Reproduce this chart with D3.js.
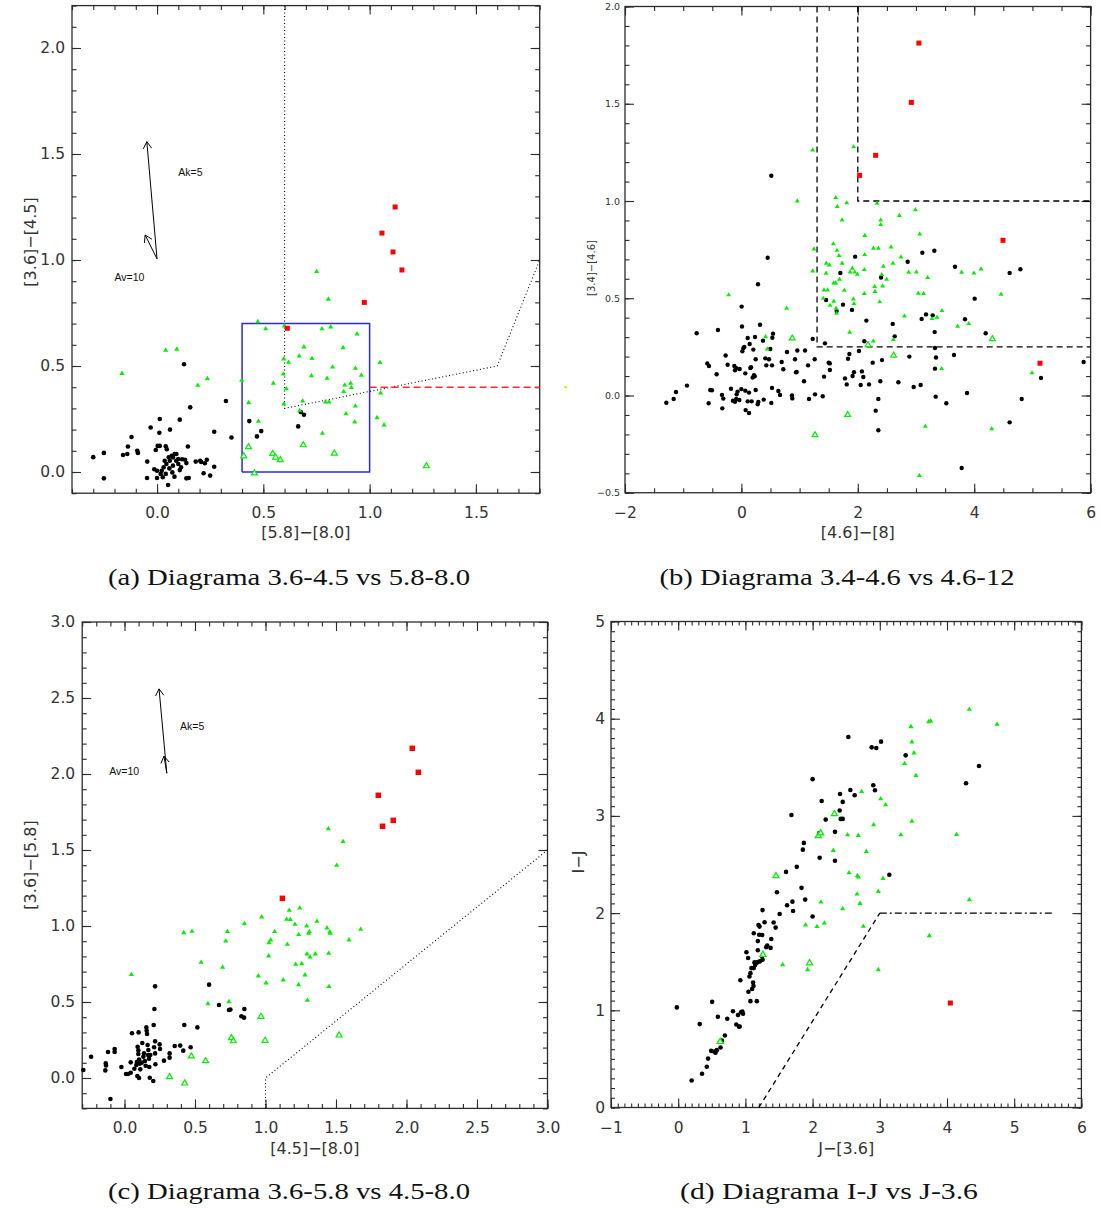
<!DOCTYPE html>
<html>
<head>
<meta charset="utf-8">
<script src="https://cdn.jsdelivr.net/npm/d3@7"></script>
<style>
  body { margin: 0; background: #fff; }
  svg { display: block; }
</style>
</head>
<body>
<svg id="fig" width="1101" height="1209"></svg>
<script>
// ---------------- data: panel (a)  [5.8]-[8.0] vs [3.6]-[4.5] ----------------
const aBlack = [
  [-0.30,0.07],[-0.25,0.09],[-0.25,-0.03],[-0.16,0.08],[-0.14,0.085],[-0.137,0.12],[-0.12,0.165],[-0.093,0.10],
  [-0.09,0.09],[-0.03,0.21],[0.013,0.25],[0.011,0.185],[0.061,0.20],[0.107,0.247],[0.127,0.508],[0.156,0.305],
  [0.145,0.12],[0.269,0.19],[0.324,0.335],[0.35,0.163],[0.434,0.24],[0.47,0.168],[0.49,0.193],[0.664,0.215],
  [0.676,0.283],[0.691,0.27],[-0.046,0.049],[-0.047,-0.028],[-0.013,0.013],[0,-0.028],[0.052,-0.061],[-0.006,0.104],
  [0.003,0.123],[0.013,0.123],[0.041,0.121],[0.046,0.107],[0.017,-0.009],[0.022,0.006],[0,0.006],[0.031,0.022],
  [0.044,0.038],[0.06,0.053],[0.075,0.069],[0.083,0.085],[0.069,0.077],[0.09,0.053],[0.10,0.061],[0.118,0.06],
  [0.132,0.058],[0.138,0.042],[0.10,0.038],[0.113,0.022],[0.107,0.009],[0.082,-0.022],[0.058,0.017],[0.072,-0.002],
  [0.041,-0.009],[0.027,-0.025],[0.138,-0.03],[0.149,-0.028],[0.182,0.049],[0.208,0.047],[0.203,0.053],[0.225,0.041],
  [0.234,0.058],[0.219,-0.006],[0.25,-0.017],[0.269,0.025],[0.055,0.069],[0.036,0.053],[0.075,0.03],[0.091,0.085]
];
const aGreen = [
  [-0.165,0.465],[0.041,0.574],[0.093,0.579],[0.192,0.409],[0.237,0.44],[0.398,0.432],[0.474,0.709],[0.511,0.675],
  [0.599,0.689],[0.596,0.533],[0.619,0.517],[0.594,0.462],[0.608,0.392],[0.597,0.321],[0.547,0.418],[0.431,0.327],
  [0.477,0.239],[0.691,0.59],[0.669,0.547],[0.729,0.535],[0.726,0.454],[0.685,0.335],[0.671,0.289],[0.776,0.675],
  [0.817,0.684],[0.875,0.586],[0.826,0.495],[0.80,0.442],[0.792,0.33],[0.809,0.33],[0.883,0.41],[0.878,0.379],
  [0.911,0.418],[0.914,0.398],[0.933,0.489],[0.941,0.651],[0.961,0.456],[0.889,0.274],[0.933,0.311],[0.93,0.236],
  [0.778,0.182],[0.751,0.945],[0.806,0.815],[1.049,0.516],[1.052,0.373],[1.035,0.256],[1.068,0.222]
];
const aOpen = [[0.43,0.118],[0.408,0.075],[0.458,-0.006],[0.544,0.086],[0.558,0.069],[0.58,0.057],[0.688,0.127],[0.834,0.088],[1.267,0.028]];
const aRed = [[0.613,0.678],[0.975,0.80],[1.11,1.038],[1.152,0.953],[1.058,1.127],[1.12,1.25]];
const aLimit = [[0.6,2.2],[0.6,0.3],[1.6,0.5],[1.8,1.0]];
const aBox = [[0.4,0.0],[1.0,0.7]];
const aRedCut = [[1.0,0.4],[1.8,0.4]];
const aReddening = { from: [0.0,1.005], longTip: [-0.048,1.558], shortTip: [-0.056,1.118] };

// ---------------- data: panel (b)  [4.6]-[8] vs [3.4]-[4.6] ----------------
const bBlack = [
  [-1.29,-0.037],[-1.164,-0.018],[-1.124,0.018],[-0.935,0.051],[-0.769,0.32],[-0.586,0.165],[-0.557,0.152],[-0.563,-0.04],
  [-0.535,0.028],[-0.506,0.027],[-0.426,0.109],[-0.403,0.337],[-0.334,0.003],[-0.328,-0.066],[-0.311,-0.016],[-0.271,0.206],
  [-0.237,0.158],[-0.179,0.035],[-0.122,0.152],[-0.11,0.13],[-0.088,0.141],[-0.145,-0.027],[-0.11,-0.032],[-0.088,-0.018],
  [-0.082,0.006],[-0.065,0.02],[-0.03,0.136],[-0.036,-0.023],[0.004,0.457],[-0.001,0.033],[0.01,0.355],[0.016,0.227],
  [0.033,0.243],[0.05,0.25],[0.067,0.114],[0.067,0.025],[0.073,-0.075],[0.108,0.296],[0.108,-0.03],[0.131,0.015],
  [0.131,-0.09],[0.142,0.265],[0.153,0.141],[0.165,0.145],[0.176,-0.03],[0.193,0.092],[0.205,0.236],[0.216,0.104],
  [0.234,0.301],[0.228,0.099],[0.245,0.186],[0.245,0.028],[0.285,0.572],[0.28,-0.045],[0.291,-0.033],[0.32,0.364],
  [0.371,0.282],[0.383,-0.021],[0.411,0.191],[0.428,0.155],[0.451,0.708],[0.474,0.186],[0.497,0.239],[0.514,-0.038],
  [0.526,0.155],[0.532,0.297],[0.543,0.318],[0.526,0.039],[0.635,0.023],[0.664,0.003],[0.692,0.172],[0.72,0.135],
  [0.783,0.224],[0.869,0],[0.875,-0.015],[0.921,0.186],[0.938,0.119],[0.95,0.121],[0.961,0.231],[1.076,0.073],
  [1.093,0.231],[1.145,0.155],[1.162,-0.018],[1.225,0.291],[1.259,0.186],[1.265,0.006],[1.397,-0.004],[0.514,1.13],
  [1.42,0.097],[1.455,0.491],[1.436,0.268],[1.499,0.169],[1.52,0.165],[1.52,0.131],[1.70,0.63],[1.746,0.467],
  [1.637,0.434],[1.78,0.088],[1.81,0.057],[1.832,0.189],[1.855,0.213],[1.90,0.44],[1.91,0.10],[1.935,0.12],
  [1.954,0.714],[2.02,0.229],[2.05,0.054],[2.07,0.124],[2.095,0.095],[2.112,0.279],[2.147,0.385],[2.193,0.057],
  [2.256,0.169],[2.307,-0.078],[2.353,-0.018],[2.353,-0.179],[2.387,0.073],[2.399,0.607],[2.416,0.182],[2.6,0.368],
  [2.634,0.304],[2.697,0.068],[2.857,0.688],[2.886,0.2],[2.96,0.044],[3.08,0.054],[3.097,0.393],[3.109,0.734],
  [3.172,0.417],[3.287,0.412],[3.315,0.744],[3.321,0.326],[3.326,0.244],[3.344,0.195],[3.326,0.138],[3.338,-0.006],
  [3.521,-0.04],[3.653,0.208],[3.67,0.662],[3.785,-0.373],[3.842,0.392],[3.877,0.013],[4.008,0.498],[4.197,0.32],
  [4.609,0.63],[4.609,-0.138],[4.793,0.649],[4.816,-0.018],[5.148,0.09],[5.88,0.172]
];
const bGreen = [
  [1.225,1.262],[0.961,1.0],[-0.219,0.517],[0.778,0.448],[0.417,0.302],[0.445,0.239],[1.247,0.753],[1.225,0.64],
  [1.93,1.278],[1.62,1.017],[1.648,0.971],[1.81,0.99],[1.73,0.902],[1.58,0.779],[1.643,0.746],[1.677,0.719],
  [1.459,0.68],[1.511,0.671],[1.455,0.628],[1.587,0.578],[1.686,0.597],[1.73,0.68],[1.62,0.578],[1.419,0.542],
  [1.482,0.542],[1.768,0.541],[1.408,0.499],[1.523,0.463],[1.587,0.484],[1.627,0.448],[1.637,0.422],[1.866,0.635],
  [1.906,0.654],[1.946,0.635],[1.992,0.623],[1.923,0.496],[1.935,0.472],[1.86,0.325],[2.12,0.822],[2.118,0.724],
  [2.112,0.647],[2.112,0.524],[2.33,0.988],[2.267,0.757],[2.353,0.757],[2.29,0.56],[2.295,0.534],[2.376,0.481],
  [2.393,0.902],[2.393,0.878],[2.439,0.664],[2.411,0.621],[2.428,0.563],[2.496,0.597],[2.571,0.763],[2.605,0.68],
  [2.743,0.712],[2.714,0.925],[2.989,0.955],[3.064,0.83],[2.874,0.633],[3.006,0.635],[3.2,0.606],[3.039,0.525],
  [3.131,0.524],[2.801,0.408],[2.267,0.28],[2.61,0.287],[3.275,0.395],[3.361,0.402],[3.447,0.436],[3.716,0.356],
  [3.906,0.369],[3.784,0.633],[3.996,0.629],[4.117,0.65],[4.461,0.52],[3.441,0.138],[3.16,-0.159],[4.301,-0.171],
  [3.058,-0.412],[4.993,0.116]
];
const bOpen = [[0.874,0.294],[1.265,-0.203],[1.826,-0.099],[2.175,0.26],[2.616,0.206],[4.312,0.291]];
const bRed = [[3.05,1.812],[2.92,1.507],[2.307,1.235],[2.032,1.132],[4.495,0.798],[5.131,0.166]];
const bClassII = [[1.3,2.0],[1.3,0.25],[6.0,0.25]];
const bClassI = [[2.0,2.0],[2.0,1.0],[6.0,1.0]];

// ---------------- data: panel (c)  [4.5]-[8.0] vs [3.6]-[5.8] ----------------
const cBlack = [
  [-0.292,0.053],[-0.237,0.14],[-0.133,0.096],[-0.131,0.083],[-0.136,0.05],[-0.117,0.171],[-0.07,0.191],[-0.07,0.171],
  [-0.1,-0.138],[-0.022,0.072],[0.011,0.026],[0.025,0.026],[0.044,0.103],[0.053,0.294],[0.044,0.035],[0.07,0.061],
  [0.084,0.086],[0.088,0.105],[0.1,0.3],[0.093,0.206],[0.098,0.182],[0.098,0.158],[0.103,0.121],[0.108,0.094],
  [0.091,0.013],[0.103,0],[0.112,0.057],[0.122,0.101],[0.126,0.23],[0.134,0.14],[0.138,0.162],[0.145,0.112],
  [0.15,0.081],[0.155,0.333],[0.157,0.311],[0.16,0.289],[0.164,0.217],[0.169,0.184],[0.167,0.151],[0.174,0.127],
  [0.176,0.072],[0.179,0.002],[0.204,-0.02],[0.207,0.349],[0.212,0.454],[0.217,0.603],[0.217,0.241],[0.21,0.202],
  [0.217,0.162],[0.219,0.09],[0.183,0.151],[0.249,0.221],[0.252,0.191],[0.28,0.114],[0.32,0.162],[0.32,0.134],
  [0.356,0.211],[0.395,0.213],[0.417,0.18],[0.424,0.349],[0.469,0.202],[0.517,0.333],[0.6,0.614],[0.67,0.48],
  [0.741,0.447],[0.751,0.45],[0.829,0.406],[0.848,0.397],[0.85,0.454]
];
const cGreen = [
  [0.049,0.68],[0.42,0.956],[0.479,0.965],[0.543,0.761],[0.592,0.489],[0.696,0.728],[0.718,0.901],[0.73,0.963],
  [0.741,0.502],[0.85,1.015],[0.949,0.671],[0.973,1.059],[1.169,1.103],[1.243,1.118],[1.15,1.044],[1.176,1.042],
  [1.209,1.011],[1.065,0.963],[1.037,0.908],[1.025,0.89],[1.022,0.803],[1.004,0.625],[1.126,0.645],[1.155,0.879],
  [1.292,1.0],[1.365,1.031],[1.436,0.987],[1.456,0.961],[1.459,0.952],[1.306,0.952],[1.311,0.963],[1.235,0.943],
  [1.675,0.978],[1.592,0.908],[1.448,0.82],[1.353,0.816],[1.316,0.796],[1.294,0.816],[1.257,0.752],[1.214,0.748],
  [1.28,0.678],[1.235,0.614],[1.45,0.601],[1.297,0.511],[1.446,1.64],[1.55,1.555],[1.505,1.399]
];
const cOpen = [[0.32,0.007],[0.427,-0.035],[0.474,0.143],[0.575,0.112],[0.758,0.263],[0.772,0.243],[0.968,0.404],[0.997,0.246],[1.522,0.281]];
const cRed = [[1.12,1.182],[1.8,1.86],[1.83,1.656],[1.906,1.695],[2.041,2.169],[2.084,2.011]];
const cLimit = [[1.0,-0.2],[1.0,0.0],[3.0,1.5]];
const cReddening = { from: [0.30,2.005], longTip: [0.245,2.56], shortTip: [0.28,2.118] };

// ---------------- data: panel (d)  J-[3.6] vs I-J ----------------
const dBlack = [
  [-0.02,1.03],[0.2,0.278],[0.32,0.858],[0.355,0.347],[0.425,0.42],[0.445,0.503],[0.505,1.087],[0.49,0.583],
  [0.535,0.576],[0.555,0.563],[0.575,0.59],[0.59,0.934],[0.63,0.618],[0.65,0.688],[0.695,0.74],[0.73,0.913],
  [0.815,0.99],[0.865,0.854],[0.905,0.83],[0.89,0.951],[0.915,0.833],[0.935,0.979],[0.955,0.986],[0.965,0.965],
  [0.925,1.309],[1.015,1.597],[1.04,1.538],[1.045,1.191],[1.06,1.347],[1.075,1.382],[1.075,1.094],[1.09,1.434],
  [1.1,1.219],[1.115,1.285],[1.12,1.25],[1.125,1.792],[1.125,1.434],[1.135,1.493],[1.145,1.465],[1.165,1.486],
  [1.17,1.094],[1.18,1.497],[1.185,1.618],[1.185,1.712],[1.195,1.878],[1.205,1.778],[1.21,1.861],[1.215,1.503],
  [1.25,1.774],[1.25,1.556],[1.255,1.521],[1.255,2.031],[1.285,1.906],[1.31,1.649],[1.325,1.667],[1.375,1.642],
  [1.385,1.733],[1.42,1.903],[1.45,1.851],[1.47,2.215],[1.51,1.99],[1.605,2.424],[1.62,2.08],[1.7,2.118],
  [1.685,3.01],[1.71,2.021],[1.765,2.476],[1.835,2.26],[1.855,2.653],[1.87,2.722],[1.89,2.139],[2.0,1.965],
  [2.0,3.378],[2.1,2.823],[2.105,2.569],[2.135,3.153],[2.195,2.962],[2.333,2.836],[2.333,2.538],[2.403,3.055],
  [2.408,3.226],[2.418,2.969],[2.448,2.969],[2.448,3.144],[2.532,3.812],[2.562,3.267],[2.626,3.212],[2.879,3.705],
  [2.948,3.699],[3.018,3.764],[2.903,3.315],[2.928,3.264],[3.142,2.394],[3.385,3.623],[4.283,3.336],[4.476,3.514]
];
const dGreen = [
  [1.555,1.469],[1.895,1.878],[1.925,1.417],[2.065,1.861],[2.73,3.25],[3.013,3.175],[3.087,3.113],[2.908,2.908],
  [3.478,2.945],[2.52,2.805],[2.679,2.798],[3.314,2.805],[4.143,2.808],[2.308,2.644],[2.799,2.634],[2.542,2.414],
  [2.666,2.384],[2.681,2.37],[3.048,2.356],[2.978,2.223],[2.661,2.195],[2.705,2.099],[2.448,2.045],[2.125,2.113],
  [2.175,1.897],[2.755,1.863],[3.737,1.767],[2.978,1.418],[4.333,2.137],[3.464,3.918],[3.478,3.76],[3.508,3.647],
  [3.369,3.538],[3.538,3.414],[3.727,3.969],[3.757,3.976],[4.333,4.096],[4.744,3.942]
];
const dOpen = [[0.625,0.677],[1.26,1.573],[1.455,2.382],[1.955,1.486],[2.085,2.795],[2.12,2.823],[2.325,3.021]];
const dRed = [[4.05,1.075]];
const dSlope = [[1.2,0.0],[3.0,2.0]];
const dFlat = [[3.0,2.0],[5.6,2.0]];

// ---------------- tick labels and captions ----------------
const aXLabels = [0.0, 0.5, 1.0, 1.5];
const aYLabels = [0.0, 0.5, 1.0, 1.5, 2.0];
const bXLabels = [-2, 0, 2, 4, 6];
const bYLabels = [-0.5, 0.0, 0.5, 1.0, 1.5, 2.0];
const cXLabels = [0.0, 0.5, 1.0, 1.5, 2.0, 2.5, 3.0];
const cYLabels = [0.0, 0.5, 1.0, 1.5, 2.0, 2.5, 3.0];
const dXLabels = [-1, 0, 1, 2, 3, 4, 5, 6];
const dYLabels = [0, 1, 2, 3, 4, 5];
const captions = [
  "(a) Diagrama 3.6-4.5 vs 5.8-8.0",
  "(b) Diagrama 3.4-4.6 vs 4.6-12",
  "(c) Diagrama 3.6-5.8 vs 4.5-8.0",
  "(d) Diagrama I-J vs J-3.6"
];

// ---------------- drawing ----------------
const svg = d3.select("#fig");
const INK = "#2b2b2b";
const GREEN = "#00f000";
const RED = "#ff0000";
const TICK_FONT = "'DejaVu Sans', 'Liberation Sans', sans-serif";
const tenths = (a, b) => d3.range(Math.round(a * 10), Math.round(b * 10) + 1).map(v => v / 10);
const steps = (a, b, s) => d3.range(Math.round(a / s), Math.round(b / s) + 1).map(v => v * s);
const minus = s => s.replace("-", "\u2212");

function panel(cfg) {
  const g = svg.append("g");
  const x = d3.scaleLinear().domain(cfg.xDomain).range([cfg.left, cfg.right]);
  const y = d3.scaleLinear().domain(cfg.yDomain).range([cfg.bottom, cfg.top]);

  // frame
  g.append("rect")
    .attr("x", cfg.left).attr("y", cfg.top)
    .attr("width", cfg.right - cfg.left).attr("height", cfg.bottom - cfg.top)
    .attr("fill", "none").attr("stroke", INK).attr("stroke-width", 1.3);

  // inward ticks on all four sides: minor ticks first, then labelled majors
  const sides = [
    { make: () => d3.axisBottom(x), tr: `translate(0,${cfg.bottom})`, maj: cfg.xMajor, min: cfg.xMinor, lab: true, fmt: cfg.xFmt, pad: cfg.xPad, fs: cfg.xFont },
    { make: () => d3.axisTop(x), tr: `translate(0,${cfg.top})`, maj: cfg.xMajor, min: cfg.xMinor, lab: false },
    { make: () => d3.axisLeft(y), tr: `translate(${cfg.left},0)`, maj: cfg.yMajor, min: cfg.yMinor, lab: true, fmt: cfg.yFmt, pad: cfg.yPad, fs: cfg.yFont },
    { make: () => d3.axisRight(y), tr: `translate(${cfg.right},0)`, maj: cfg.yMajor, min: cfg.yMinor, lab: false }
  ];
  sides.forEach(s => {
    g.append("g").attr("transform", s.tr)
      .call(s.make().tickValues(s.min).tickSize(-cfg.minorLen).tickSizeOuter(0).tickFormat(""))
      .call(sel => sel.select(".domain").remove());
    g.append("g").attr("transform", s.tr)
      .call(s.make().tickValues(s.maj).tickSize(-cfg.majorLen).tickSizeOuter(0)
        .tickFormat(s.lab ? s.fmt : "").tickPadding(s.lab ? s.pad : 3))
      .call(sel => sel.select(".domain").remove())
      .call(sel => sel.selectAll("text").attr("font-family", TICK_FONT).attr("font-size", s.fs).attr("fill", "#333"));
  });
  g.selectAll(".tick line").attr("stroke", INK).attr("stroke-width", 1.1);

  // axis titles
  g.append("text").text(cfg.xTitle)
    .attr("x", (cfg.left + cfg.right) / 2).attr("y", cfg.xTitleY).attr("dy", "0.35em")
    .attr("text-anchor", "middle").attr("font-family", TICK_FONT).attr("font-size", cfg.titleFont).attr("fill", "#333");
  g.append("text").text(cfg.yTitle)
    .attr("transform", `translate(${cfg.yTitleX},${cfg.yTitleY}) rotate(-90)`).attr("dy", "0.35em")
    .attr("text-anchor", "middle").attr("font-family", TICK_FONT).attr("font-size", cfg.yTitleFont || cfg.titleFont).attr("fill", "#333");

  // caption
  g.append("text").text(cfg.caption)
    .attr("x", cfg.capX).attr("y", cfg.capY).attr("dy", "0.35em")
    .attr("text-anchor", "middle")
    .attr("font-family", "'Liberation Serif', 'DejaVu Serif', serif").attr("font-size", 24)
    .attr("textLength", cfg.capW).attr("lengthAdjust", "spacingAndGlyphs")
    .attr("fill", "#111");

  return { g, x, y };
}

function drawLine(p, pts, stroke, dash, width) {
  const line = d3.line().x(d => p.x(d[0])).y(d => p.y(d[1]));
  p.g.append("path").attr("d", line(pts)).attr("fill", "none")
    .attr("stroke", stroke).attr("stroke-width", width || 1.1)
    .attr("stroke-dasharray", dash || null);
}

function drawMarkers(p, black, green, open, red, sz) {
  const triFill = d3.symbol().type(d3.symbolTriangle).size(sz.tri);
  const triOpen = d3.symbol().type(d3.symbolTriangle).size(sz.open);
  p.g.append("g").selectAll("circle").data(black).join("circle")
    .attr("cx", d => p.x(d[0])).attr("cy", d => p.y(d[1])).attr("r", sz.dot).attr("fill", "#000");
  p.g.append("g").selectAll("path").data(green).join("path")
    .attr("d", triFill).attr("transform", d => `translate(${p.x(d[0])},${p.y(d[1])})`).attr("fill", GREEN);
  p.g.append("g").selectAll("path").data(open).join("path")
    .attr("d", triOpen).attr("transform", d => `translate(${p.x(d[0])},${p.y(d[1])})`)
    .attr("fill", "#fff").attr("stroke", GREEN).attr("stroke-width", 1.2);
  p.g.append("g").selectAll("rect").data(red).join("rect")
    .attr("x", d => p.x(d[0]) - sz.sq / 2).attr("y", d => p.y(d[1]) - sz.sq / 2)
    .attr("width", sz.sq).attr("height", sz.sq).attr("fill", RED);
}

function drawArrow(p, from, tip) {
  const x0 = p.x(from[0]), y0 = p.y(from[1]), x1 = p.x(tip[0]), y1 = p.y(tip[1]);
  p.g.append("line").attr("x1", x0).attr("y1", y0).attr("x2", x1).attr("y2", y1)
    .attr("stroke", "#000").attr("stroke-width", 1);
  const ang = Math.atan2(y1 - y0, x1 - x0), L = 8, spread = 0.55;
  const hx = a => x1 - L * Math.cos(a), hy = a => y1 - L * Math.sin(a);
  p.g.append("path")
    .attr("d", `M${hx(ang - spread)},${hy(ang - spread)}L${x1},${y1}L${hx(ang + spread)},${hy(ang + spread)}`)
    .attr("fill", "none").attr("stroke", "#000").attr("stroke-width", 1);
}

function note(p, pos, txt) {
  p.g.append("text").text(txt).attr("x", p.x(pos[0])).attr("y", p.y(pos[1])).attr("dy", "0.35em")
    .attr("font-family", "'Liberation Sans', Arial, sans-serif").attr("font-size", 10.5).attr("fill", "#111");
}

const fmt1 = d => minus(d3.format(".1f")(d));
const fmt0 = d => minus(d3.format("d")(d));

// ---- panel (a)
const pa = panel({
  left: 72, right: 539.7, top: 5.6, bottom: 493.2,
  xDomain: [-0.4, 1.8], yDomain: [-0.1, 2.2],
  xMajor: aXLabels, xMinor: tenths(-0.4, 1.8), yMajor: aYLabels, yMinor: tenths(-0.1, 2.2),
  xFmt: fmt1, yFmt: fmt1, xPad: 14, yPad: 7, xFont: 15.5, yFont: 15.5,
  majorLen: 9, minorLen: 4.5,
  xTitle: "[5.8]\u2212[8.0]", xTitleY: 532, yTitle: "[3.6]\u2212[4.5]", yTitleX: 30, yTitleY: 242, titleFont: 16,
  caption: captions[0], capX: 289, capY: 577, capW: 362
});
drawLine(pa, aLimit, "#000", "1,2.5", 1.1);
drawLine(pa, [[aBox[0][0], aBox[0][1]], [aBox[1][0], aBox[0][1]], [aBox[1][0], aBox[1][1]], [aBox[0][0], aBox[1][1]], [aBox[0][0], aBox[0][1]]], "#2a2ae6", null, 1.5);
drawLine(pa, aRedCut, "#ff2a2a", "7,4", 1.4);
drawLine(pa, [[1.915, 0.4], [1.93, 0.4]], "#e8e800", null, 2);
drawArrow(pa, aReddening.from, aReddening.longTip);
drawArrow(pa, aReddening.from, aReddening.shortTip);
note(pa, [0.10, 1.414], "Ak=5");
note(pa, [-0.2, 0.917], "Av=10");
drawMarkers(pa, aBlack, aGreen, aOpen, aRed, { dot: 2.3, tri: 11, open: 15, sq: 5 });

// ---- panel (b)
const pb = panel({
  left: 625, right: 1090.6, top: 6.5, bottom: 492.75,
  xDomain: [-2, 6], yDomain: [-0.5, 2.0],
  xMajor: bXLabels, xMinor: steps(-2, 6, 0.5), yMajor: bYLabels, yMinor: tenths(-0.5, 2.0),
  xFmt: fmt0, yFmt: d => d3.format(".1f")(d), xPad: 14, yPad: 5, xFont: 15.5, yFont: 9.5,
  majorLen: 9, minorLen: 4.5,
  xTitle: "[4.6]\u2212[8]", xTitleY: 532, yTitle: "[3.4]\u2212[4.6]", yTitleX: 591, yTitleY: 268, titleFont: 16, yTitleFont: 10,
  caption: captions[1], capX: 837, capY: 577, capW: 355
});
drawLine(pb, bClassII, "#000", "6,4", 1.3);
drawLine(pb, bClassI, "#000", "6,4", 1.3);
drawMarkers(pb, bBlack, bGreen, bOpen, bRed, { dot: 2.2, tri: 10, open: 14, sq: 5 });

// ---- panel (c)
const pc = panel({
  left: 82.2, right: 547.5, top: 622, bottom: 1108.4,
  xDomain: [-0.3, 3.0], yDomain: [-0.2, 3.0],
  xMajor: cXLabels, xMinor: tenths(-0.3, 3.0), yMajor: cYLabels, yMinor: tenths(-0.2, 3.0),
  xFmt: fmt1, yFmt: fmt1, xPad: 14, yPad: 7, xFont: 15.5, yFont: 15.5,
  majorLen: 9, minorLen: 4.5,
  xTitle: "[4.5]\u2212[8.0]", xTitleY: 1148, yTitle: "[3.6]\u2212[5.8]", yTitleX: 30, yTitleY: 865, titleFont: 16,
  caption: captions[2], capX: 289, capY: 1191, capW: 362
});
drawLine(pc, cLimit, "#000", "1,2.5", 1.1);
drawArrow(pc, cReddening.from, cReddening.longTip);
drawArrow(pc, cReddening.from, cReddening.shortTip);
note(pc, [0.394, 2.316], "Ak=5");
note(pc, [-0.108, 2.02], "Av=10");
drawMarkers(pc, cBlack, cGreen, cOpen, cRed, { dot: 2.3, tri: 11, open: 15, sq: 5.5 });

// ---- panel (d)
const pd = panel({
  left: 611, right: 1081.4, top: 621.5, bottom: 1107.5,
  xDomain: [-1, 6], yDomain: [0, 5],
  xMajor: dXLabels, xMinor: tenths(-1, 6), yMajor: dYLabels, yMinor: tenths(0, 5),
  xFmt: fmt0, yFmt: fmt0, xPad: 14, yPad: 6, xFont: 15.5, yFont: 15.5,
  majorLen: 9, minorLen: 4,
  xTitle: "J\u2212[3.6]", xTitleY: 1148, yTitle: "I\u2212J", yTitleX: 578, yTitleY: 862, titleFont: 16,
  caption: captions[3], capX: 829, capY: 1191, capW: 298
});
drawLine(pd, dSlope, "#000", "5,4", 1.3);
drawLine(pd, dFlat, "#000", "7,3,2,3", 1.3);
drawMarkers(pd, dBlack, dGreen, dOpen, dRed, { dot: 2.3, tri: 11, open: 16, sq: 5 });
</script>
</body>
</html>
